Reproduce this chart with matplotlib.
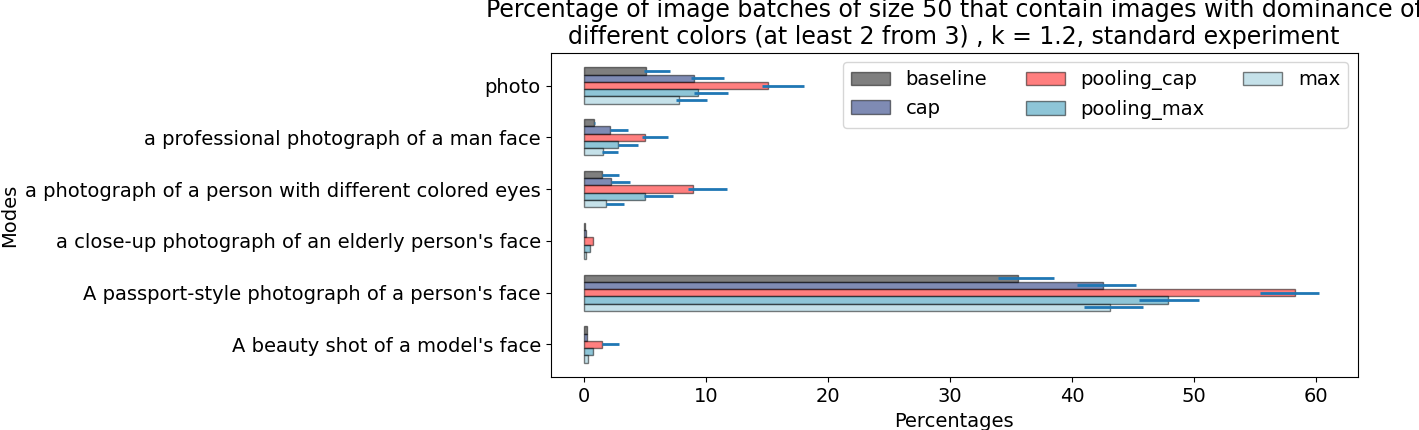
import numpy as np
from matplotlib import pyplot as plt

modes = [
    "A beauty shot of a model's face",
    "A passport-style photograph of a person's face",
    "a close-up photograph of an elderly person's face",
    "a photograph of a person with different colored eyes",
    "a professional photograph of a man face",
    "photo",
]
methods = ["baseline", "cap", "pooling_cap", "pooling_max", "max"]
colors = ["black", "#00196b", "red", "#1f8db1", "#8dc5d5"]

# percentages per method, in the order of `modes`
baseline = [0.2, 35.6, 0.05, 1.5, 0.85, 5.05]
cap = [0.2, 42.5, 0.14, 2.2, 2.15, 9.0]
pooling_cap = [1.5, 58.3, 0.7, 8.9, 4.95, 15.1]
pooling_max = [0.75, 47.9, 0.5, 5.0, 2.8, 9.3]
max_ = [0.35, 43.1, 0.12, 1.8, 1.55, 7.8]

# error bar extents below / above each value
baseline_err_lo = [0.0, 1.7, 0.0, 0.0, 0.0, 0.15]
baseline_err_hi = [0.0, 2.9, 0.0, 1.35, 0.05, 1.95]
cap_err_lo = [0.0, 2.1, 0.0, 0.0, 0.05, 0.25]
cap_err_hi = [0.0, 2.7, 0.0, 1.6, 1.45, 2.5]
pooling_cap_err_lo = [0.0, 2.9, 0.0, 0.35, 0.2, 0.5]
pooling_cap_err_hi = [1.35, 1.9, 0.0, 2.8, 1.95, 2.9]
pooling_max_err_lo = [0.0, 2.4, 0.0, 0.1, 0.0, 0.3]
pooling_max_err_hi = [0.0, 2.5, 0.0, 2.25, 1.6, 2.5]
max_err_lo = [0.0, 2.1, 0.0, 0.0, 0.05, 0.25]
max_err_hi = [0.0, 2.7, 0.0, 1.45, 1.2, 2.3]

values = [baseline, cap, pooling_cap, pooling_max, max_]
err_lo = [baseline_err_lo, cap_err_lo, pooling_cap_err_lo, pooling_max_err_lo, max_err_lo]
err_hi = [baseline_err_hi, cap_err_hi, pooling_cap_err_hi, pooling_max_err_hi, max_err_hi]

plt.rcParams['font.size'] = 14
fig, ax = plt.subplots(figsize=(14.19, 4.3), dpi=100)
fig.subplots_adjust(left=0.388, right=0.9567, top=0.8775, bottom=0.1225)

y = np.arange(len(modes))
height = 0.14
for i, (name, vals, lo, hi, col) in enumerate(zip(methods, values, err_lo, err_hi, colors)):
    pos = y + (2 - i) * height
    ax.barh(pos, vals, height=height, color=col, alpha=0.5, edgecolor='black',
            linewidth=1, label=name)
    ax.errorbar(vals, pos, xerr=[lo, hi], fmt='none', ecolor='tab:blue', elinewidth=2)

ax.set_xlim(-2.75, 63.4)
ax.set_yticks(y)
ax.set_yticklabels(modes)
ax.set_xlabel('Percentages')
ax.set_ylabel('Modes')
ax.set_title('Percentage of image batches of size 50 that contain images with dominance of\n'
             'different colors (at least 2 from 3) , k = 1.2, standard experiment', fontsize=17)
ax.legend(ncol=3, loc='upper right')

fig.savefig('out.png', dpi=100)
